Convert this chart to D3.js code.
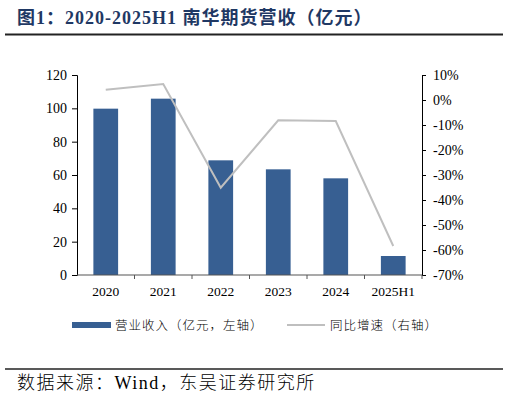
<!DOCTYPE html>
<html><head><meta charset="utf-8">
<script src="https://cdn.jsdelivr.net/npm/d3@7"></script>
<style>body{margin:0;background:#fff}svg{display:block}</style>
</head><body>
<script>
const categories = ["2020","2021","2022","2023","2024","2025H1"];
const revenue = [99.8, 105.8, 68.8, 63.4, 58.0, 11.4];
const growth = [4.1, 6.4, -35.1, -8.1, -8.4, -58.4];
const leftTicks = [0,20,40,60,80,100,120];
const rightTicks = [10,0,-10,-20,-30,-40,-50,-60,-70];

const W=509,H=402;
const svg=d3.select("body").append("svg").attr("width",W).attr("height",H);
const serif="'Liberation Serif','Times New Roman','Noto Sans CJK SC',serif";
const cjk="'Liberation Serif','Noto Sans CJK SC',sans-serif";

// title
svg.append("text").attr("x",17).attr("y",24).attr("font-family",cjk).attr("font-weight","bold")
  .attr("font-size",18).attr("letter-spacing",1).attr("fill","#1f3864").text("图1：2020-2025H1 南华期货营收（亿元）");
svg.append("line").attr("x1",5).attr("x2",503).attr("y1",34.5).attr("y2",34.5).attr("stroke","#222").attr("stroke-width",2);

const x=d3.scaleBand().domain(categories).range([77,422]).paddingInner(0.57).paddingOuter(0.285);
const yL=d3.scaleLinear().domain([0,120]).range([275,75]);
const yR=d3.scaleLinear().domain([-70,10]).range([275,75]);

// bars
svg.append("g").selectAll("rect").data(categories).join("rect")
  .attr("x",d=>x(d)).attr("width",x.bandwidth())
  .attr("y",(d,i)=>yL(revenue[i])).attr("height",(d,i)=>275-yL(revenue[i]))
  .attr("fill","#375f92");

// left axis
const gl=svg.append("g").attr("transform","translate(77,0)")
  .call(d3.axisLeft(yL).tickValues(leftTicks).tickSize(5).tickPadding(5));
gl.selectAll("text").attr("font-family",serif).attr("font-size",14).attr("fill","#000");
gl.selectAll("path,line").attr("stroke","#000");

// right axis
const gr=svg.append("g").attr("transform","translate(422,0)")
  .call(d3.axisRight(yR).tickValues(rightTicks).tickSize(4).tickPadding(7).tickFormat(d=>d+"%"));
gr.selectAll("text").attr("font-family",serif).attr("font-size",14).attr("fill","#000");
gr.selectAll("path,line").attr("stroke","#000");

// x axis
const gx=svg.append("g").attr("transform","translate(0,275)");
gx.append("line").attr("x1",77).attr("x2",422).attr("stroke","#555").attr("stroke-width",1.2);
const bounds=categories.map(c=>x(c)-x.step()*x.paddingInner()/2).concat([422]);
gx.selectAll("line.t").data(bounds.slice(1)).join("line").attr("class","t")
  .attr("x1",d=>d).attr("x2",d=>d).attr("y1",0).attr("y2",4).attr("stroke","#555");
gx.selectAll("text").data(categories).join("text")
  .attr("x",d=>x(d)+x.bandwidth()/2).attr("y",21).attr("text-anchor","middle")
  .attr("font-family",serif).attr("font-size",13.5).text(d=>d);

// line
const line=d3.line().x((d,i)=>x(categories[i])+x.bandwidth()/2).y(d=>yR(d));
svg.append("path").datum(growth).attr("d",line).attr("fill","none")
  .attr("stroke","#bfbfbf").attr("stroke-width",2);

// legend
svg.append("rect").attr("x",72).attr("y",322).attr("width",39).attr("height",6).attr("fill","#375f92");
svg.append("text").attr("x",115).attr("y",329.5).attr("font-family",cjk).attr("font-size",12.5)
  .attr("font-weight",300).attr("letter-spacing",1).text("营业收入（亿元，左轴）");
svg.append("line").attr("x1",287).attr("x2",325).attr("y1",325).attr("y2",325).attr("stroke","#bfbfbf").attr("stroke-width",2);
svg.append("text").attr("x",330).attr("y",329.5).attr("font-family",cjk).attr("font-size",12.5)
  .attr("font-weight",300).attr("letter-spacing",1).text("同比增速（右轴）");

// footer
svg.append("line").attr("x1",5).attr("x2",503).attr("y1",369).attr("y2",369).attr("stroke","#222").attr("stroke-width",1.5);
svg.append("text").attr("x",17).attr("y",389).attr("font-family",cjk).attr("font-size",18)
  .attr("font-weight",300).attr("letter-spacing",1.5).text("数据来源：Wind，东吴证券研究所");
</script>
</body></html>
